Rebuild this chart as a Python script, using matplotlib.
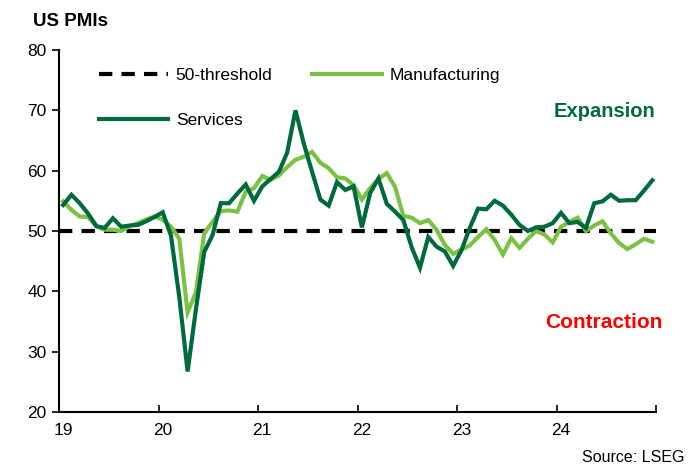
import numpy as np
import matplotlib
matplotlib.use("Agg")
import matplotlib.pyplot as plt
import matplotlib.transforms as mtransforms

plt.rcParams['font.family'] = ['Liberation Sans', 'DejaVu Sans']

# monthly PMI readings, Jan 2019 - Dec 2024
manufacturing = [
    54.9, 53.5, 52.4, 52.3, 50.8, 50.2, 50.2, 50.0, 50.8, 51.3, 51.9, 52.4,   # 2019
    51.9, 50.7, 48.7, 36.5, 39.8, 49.6, 51.5, 53.3, 53.4, 53.2, 56.5, 57.1,   # 2020
    59.1, 58.5, 59.2, 60.6, 61.8, 62.3, 63.1, 61.3, 60.4, 58.9, 58.7, 57.6,   # 2021
    55.2, 57.1, 58.6, 59.6, 57.3, 52.5, 52.2, 51.3, 51.8, 50.2, 47.7, 46.2,   # 2022
    46.9, 47.6, 49.0, 50.3, 48.5, 46.1, 48.8, 47.2, 48.7, 50.0, 49.4, 48.1,   # 2023
    50.7, 51.5, 52.2, 50.0, 50.9, 51.6, 49.6, 48.0, 47.0, 47.8, 48.7, 48.2,   # 2024
]
services = [
    54.3, 56.0, 54.6, 52.9, 50.8, 50.5, 52.1, 50.7, 50.9, 51.0, 51.6, 52.3,   # 2019
    53.1, 49.2, 39.0, 26.7, 37.0, 46.5, 49.3, 54.6, 54.6, 56.2, 57.7, 55.0,   # 2020
    57.4, 58.6, 59.8, 63.0, 70.0, 64.5, 59.8, 55.2, 54.2, 58.1, 56.8, 57.4,   # 2021
    50.6, 56.3, 58.7, 54.5, 53.2, 51.8, 47.3, 43.9, 49.0, 47.4, 46.6, 44.2,   # 2022
    46.8, 50.5, 53.7, 53.6, 55.0, 54.2, 52.7, 51.0, 50.0, 50.6, 50.7, 51.3,   # 2023
    53.0, 51.3, 51.5, 50.5, 54.6, 54.9, 56.0, 55.0, 55.1, 55.1, 56.7, 58.4,   # 2024
]
years = [2019, 2020, 2021, 2022, 2023, 2024]
year_labels = ['19', '20', '21', '22', '23', '24']
threshold = 50

dark_green = '#006a3f'
light_green = '#7cc242'

x = 2019 + (np.arange(len(services)) + 0.5) / 12.0

fig = plt.figure(figsize=(6.98, 4.74), dpi=100)
ax = fig.add_axes([0.0845, 0.131, 0.856, 0.7635])

h_thr = ax.axhline(threshold, color='black', lw=3, ls=(0, (3.2, 2.2)), label='50-threshold', zorder=1)
h_man, = ax.plot(x, manufacturing, color=light_green, lw=3, label='Manufacturing', zorder=2,
                 solid_joinstyle='miter')
h_ser, = ax.plot(x, services, color=dark_green, lw=3, label='Services', zorder=3,
                 solid_joinstyle='miter')

ax.set_xlim(2019, 2025)
ax.set_ylim(20, 80)
ax.set_xticks(years + [2025])
ax.set_xticklabels(year_labels + [''])
ax.set_yticks(np.arange(20, 81, 10))
ax.tick_params(axis='x', direction='in', length=5, width=1.2, labelsize=12.5, pad=8)
ax.tick_params(axis='y', direction='out', length=5, width=1.2, labelsize=12.5, pad=4)
shift = mtransforms.ScaledTranslation(4 / 100, 0, fig.dpi_scale_trans)
for lab in ax.get_xticklabels():
    lab.set_transform(lab.get_transform() + shift)
ax.spines['right'].set_visible(False)
ax.spines['top'].set_visible(False)
ax.spines['left'].set_linewidth(1.5)
ax.spines['bottom'].set_linewidth(1.5)

# column-major fill: threshold + services in col 1, manufacturing in col 2
leg = ax.legend([h_thr, h_ser, h_man], ['50-threshold', 'Services', 'Manufacturing'],
                ncol=2, loc='upper left', bbox_to_anchor=(0.04, 0.995), frameon=False,
                fontsize=12.5, handlelength=4.0, handletextpad=0.45, columnspacing=2.3,
                labelspacing=1.75)

ax.text(0.998, 0.831, 'Expansion', transform=ax.transAxes, ha='right', va='center',
        color=dark_green, fontsize=14.5, fontweight='bold')
ax.text(1.01, 0.246, 'Contraction', transform=ax.transAxes, ha='right', va='center',
        color='#ff0000', fontsize=15, fontweight='bold')

fig.text(0.047, 0.955, 'US PMIs', fontsize=13.5, fontweight='bold', ha='left', va='center')
fig.text(0.98, 0.018, 'Source: LSEG', fontsize=11.5, ha='right', va='bottom')

fig.savefig('out.png', dpi=100)
